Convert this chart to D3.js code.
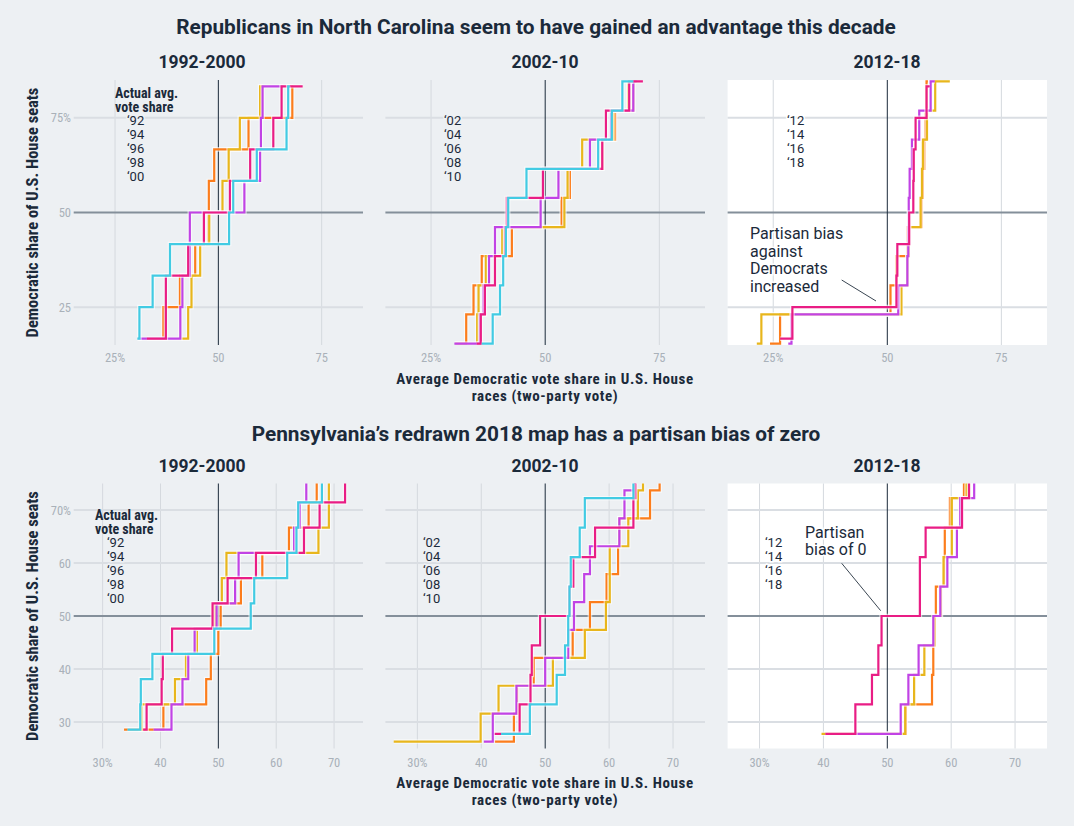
<!DOCTYPE html>
<html>
<head>
<meta charset="utf-8">
<script src="https://cdnjs.cloudflare.com/ajax/libs/d3/7.8.5/d3.min.js"></script>
<style>
  body { margin: 0; background: #edf0f3; }
  svg { display: block; }
  .narrow { font-family: "Liberation Sans Narrow", "Roboto Condensed", "Roboto", sans-serif; }
</style>
</head>
<body>
<script>
// one colour per election inside a decade
var colors = ["#fc7d1c", "#e8b61c", "#c143e5", "#e91d85", "#42cbe3"];

// ---- North Carolina ----
var ncYears1 = ["\u201892", "\u201894", "\u201896", "\u201898", "\u201800"];
var ncSeats1 = [12, 12, 12, 12, 12];
var ncLow1 = [2, 2, 2, 2, 2];
// start, vote share at each seat step, end
var ncVotes1 = [
  [36.5, 36.7, 40.7, 44.4, 47.6, 47.7, 49.0, 57.3, 67.9, 68.1],
  [41.1, 42.7, 43.5, 45.6, 47.8, 51.0, 52.5, 55.2, 60.1, 60.9],
  [30.6, 40.8, 41.3, 43.1, 43.1, 56.3, 60.1, 60.3, 60.7, 65.7],
  [32.7, 37.3, 37.3, 42.7, 46.5, 52.8, 57.7, 63.3, 65.3, 70.4],
  [30.4, 30.9, 34.1, 38.3, 52.6, 53.6, 59.3, 66.5, 66.9, 67.3]
];

var ncYears2 = ["\u201802", "\u201804", "\u201806", "\u201808", "\u201810"];
var ncSeats2 = [13, 13, 13, 13, 13];
var ncLow2 = [2, 2, 2, 2, 2];
var ncVotes2 = [
  [30.3, 32.7, 34.3, 36.1, 42.7, 53.6, 55.4, 62.5, 65.3, 69.3, 70.0],
  [34.9, 35.1, 35.4, 37.0, 40.6, 54.2, 54.9, 58.1, 64.9, 68.2, 69.3],
  [30.1, 35.7, 36.5, 37.7, 39.0, 49.0, 52.9, 59.8, 64.4, 69.3, 70.0],
  [35.0, 35.9, 36.8, 39.0, 41.2, 41.6, 49.5, 62.5, 63.3, 68.4, 71.4],
  [36.1, 38.5, 40.1, 40.8, 41.4, 41.9, 45.9, 61.6, 64.6, 66.9, 69.3]
];

var ncYears3 = ["\u201812", "\u201814", "\u201816", "\u201818"];
var ncSeats3 = [13, 13, 13, 12];
var ncLow3 = [2, 2, 2, 2];
var ncVotes3 = [
  [24.3, 26.5, 50.7, 52.0, 54.4, 57.5, 57.8, 58.1, 58.4, 58.6, 58.9],
  [21.4, 22.4, 53.1, 54.4, 54.7, 57.3, 57.6, 57.8, 58.7, 60.5, 63.7],
  [28.3, 29.0, 52.4, 54.4, 54.6, 54.7, 54.9, 55.4, 57.0, 59.5, 60.4],
  [26.5, 29.2, 52.0, 52.2, 54.8, 55.7, 55.8, 56.2, 58.6, 59.3]
];

// ---- Pennsylvania ----
var paYears1 = ["\u201892", "\u201894", "\u201896", "\u201898", "\u201800"];
var paSeats1 = [21, 21, 21, 21, 21];
var paLow1 = [6, 6, 6, 6, 6];
var paVotes1 = [
  [33.7, 40.5, 47.9, 48.7, 50.0, 50.4, 53.9, 57.6, 62.2, 65.6, 67.0, 67.0],
  [36.2, 36.7, 42.5, 44.4, 46.3, 49.4, 50.6, 51.4, 67.3, 69.1, 69.1, 69.1],
  [38.8, 41.9, 43.8, 44.8, 45.9, 49.7, 52.9, 53.5, 63.1, 64.1, 65.2, 65.2],
  [37.0, 37.6, 40.2, 40.4, 42.0, 49.0, 51.6, 56.5, 64.8, 67.5, 71.9, 71.9],
  [34.3, 36.5, 36.6, 38.6, 49.3, 55.6, 56.2, 61.9, 63.5, 63.8, 67.9, 67.9]
];

var paYears2 = ["\u201802", "\u201804", "\u201806", "\u201808", "\u201810"];
var paSeats2 = [19, 19, 19, 18, 18];
var paLow2 = [5, 5, 5, 5, 5];
var paVotes2 = [
  [42.1, 45.1, 45.6, 48.2, 54.3, 57.0, 59.6, 61.4, 61.6, 66.4, 67.9, 67.9],
  [26.3, 39.9, 42.7, 51.2, 56.2, 59.5, 60.1, 60.1, 63.0, 64.5, 65.3, 65.3],
  [40.4, 41.8, 45.5, 50.0, 53.6, 54.5, 56.1, 57.0, 61.6, 62.4, 64.0, 64.0],
  [42.1, 46.0, 47.7, 47.9, 49.2, 53.8, 54.4, 57.8, 63.8, 64.1, 64.1],
  [43.1, 47.6, 51.8, 53.1, 53.6, 53.8, 54.0, 55.4, 56.2, 63.8, 63.8]
];

var paYears3 = ["\u201812", "\u201814", "\u201816", "\u201818"];
var paSeats3 = [18, 18, 18, 18];
var paLow3 = [5, 5, 5, 5];
var paVotes3 = [
  [45.0, 52.9, 57.0, 57.2, 57.4, 57.6, 58.9, 59.0, 59.8, 62.0, 62.0],
  [39.7, 52.8, 54.2, 55.8, 57.4, 58.4, 58.8, 60.1, 60.1, 62.4, 62.4],
  [45.0, 52.1, 53.3, 54.9, 57.2, 58.3, 59.4, 60.9, 61.4, 63.6, 63.6],
  [40.3, 45.0, 47.6, 48.6, 49.1, 55.1, 55.1, 56.0, 61.7, 62.8, 62.8]
];

var panelLabels = ["1992-2000", "2002-10", "2012-18"];
var ncTicks = [25, 50, 75];
var paTicks = [30, 40, 50, 60, 70];

var navy = "#1b2a3a";
var svg = d3.select("body").append("svg").attr("width", 1074).attr("height", 826);

var panelX = [[73.7, 363], [385.4, 705], [727.6, 1047]];
var titleCx = [202, 545, 887];

var rows = [
  {
    title: "Republicans in North Carolina seem to have gained an advantage this decade",
    titleY: 34, labelY: 68, xDomain: [15, 85], yDomain: [15, 85], yRange: [345, 80],
    xTicks: ncTicks, yTicks: ncTicks, tickY: 362, axisY: 384, legendTop: 98,
    panels: [
      { years: ncYears1, seats: ncSeats1, low: ncLow1, votes: ncVotes1, lx: 115 },
      { years: ncYears2, seats: ncSeats2, low: ncLow2, votes: ncVotes2, lx: 444 },
      { years: ncYears3, seats: ncSeats3, low: ncLow3, votes: ncVotes3, lx: 787, white: true }
    ]
  },
  {
    title: "Pennsylvania\u2019s redrawn 2018 map has a partisan bias of zero",
    titleY: 441, labelY: 472, xDomain: [25, 75], yDomain: [25, 75], yRange: [748.5, 483.5],
    xTicks: paTicks, yTicks: paTicks, tickY: 767, axisY: 788, legendTop: 520,
    panels: [
      { years: paYears1, seats: paSeats1, low: paLow1, votes: paVotes1, lx: 95 },
      { years: paYears2, seats: paSeats2, low: paLow2, votes: paVotes2, lx: 423 },
      { years: paYears3, seats: paSeats3, low: paLow3, votes: paVotes3, lx: 765, white: true }
    ]
  }
];

// turn a list of step positions into points for a step-after line
function stepPoints(votes, seats, low) {
  var pts = [];
  for (var i = 0; i < votes.length - 1; i++) {
    pts.push([votes[i], (low + i) / seats * 100]);
  }
  pts.push([votes[votes.length - 1], (low + votes.length - 2) / seats * 100]);
  return pts;
}

rows.forEach(function(row, r) {
  svg.append("text")
    .attr("x", 536).attr("y", row.titleY)
    .attr("text-anchor", "middle")
    .attr("font-family", "Roboto, sans-serif")
    .attr("font-weight", 700).attr("font-size", 20.8)
    .attr("fill", navy)
    .text(row.title);

  var y = d3.scaleLinear().domain(row.yDomain).range(row.yRange);

  row.panels.forEach(function(p, j) {
    var x = d3.scaleLinear().domain(row.xDomain).range(panelX[j]);
    var g = svg.append("g");
    var bg = p.white ? "#ffffff" : "#edf0f3";

    svg.append("text")
      .attr("x", titleCx[j]).attr("y", row.labelY)
      .attr("text-anchor", "middle")
      .attr("font-family", "Roboto, sans-serif")
      .attr("font-weight", 700).attr("font-size", 17.5)
      .attr("fill", navy)
      .text(panelLabels[j]);

    if (p.white) {
      g.append("rect")
        .attr("x", panelX[j][0]).attr("y", row.yRange[1])
        .attr("width", panelX[j][1] - panelX[j][0])
        .attr("height", row.yRange[0] - row.yRange[1])
        .attr("fill", "#ffffff");
    }

    // grid
    g.selectAll(".vg").data(row.xTicks.filter(function(t) { return t !== 50; }))
      .enter().append("line")
      .attr("x1", function(d) { return x(d); }).attr("x2", function(d) { return x(d); })
      .attr("y1", row.yRange[1]).attr("y2", row.yRange[0])
      .attr("stroke", "#d5d9de").attr("stroke-width", 1);
    g.selectAll(".hg").data(row.yTicks.filter(function(t) { return t !== 50; }))
      .enter().append("line")
      .attr("x1", panelX[j][0]).attr("x2", panelX[j][1])
      .attr("y1", function(d) { return y(d); }).attr("y2", function(d) { return y(d); })
      .attr("stroke", "#dadee3").attr("stroke-width", 2);
    g.append("line")
      .attr("x1", panelX[j][0]).attr("x2", panelX[j][1])
      .attr("y1", y(50)).attr("y2", y(50))
      .attr("stroke", "#848f9a").attr("stroke-width", 2);
    g.append("line")
      .attr("x1", x(50)).attr("x2", x(50))
      .attr("y1", row.yRange[1]).attr("y2", row.yRange[0])
      .attr("stroke", navy).attr("stroke-width", 1);

    // x tick labels
    g.selectAll(".xt").data(row.xTicks).enter().append("text")
      .attr("class", "narrow")
      .attr("x", function(d) { return x(d); }).attr("y", row.tickY)
      .attr("text-anchor", "middle").attr("font-size", 12.5)
      .attr("fill", "#a9b1b9")
      .text(function(d, i) { return i === 0 ? d + "%" : d; });

    if (j === 0) {
      var yt = row.yTicks.slice().reverse();
      g.selectAll(".yt").data(yt).enter().append("text")
        .attr("class", "narrow")
        .attr("x", 71).attr("y", function(d) { return y(d) + 4.5; })
        .attr("text-anchor", "end").attr("font-size", 12.5)
        .attr("fill", "#a9b1b9")
        .text(function(d, i) { return i === 0 ? d + "%" : d; });
      var cy = (row.yRange[0] + row.yRange[1]) / 2;
      g.append("text")
        .attr("class", "narrow")
        .attr("transform", "translate(38," + cy + ") rotate(-90)")
        .attr("text-anchor", "middle").attr("font-size", 16.5).attr("font-weight", 700)
        .attr("fill", navy)
        .text("Democratic share of U.S. House seats");
    }

    // lines
    var clipId = "clip" + r + j;
    g.append("clipPath").attr("id", clipId).append("rect")
      .attr("x", panelX[j][0]).attr("y", row.yRange[1])
      .attr("width", panelX[j][1] - panelX[j][0])
      .attr("height", row.yRange[0] - row.yRange[1]);

    var line = d3.line()
      .x(function(d) { return x(d[0]); })
      .y(function(d) { return y(d[1]); })
      .curve(d3.curveStepAfter);

    var lg = g.append("g").attr("clip-path", "url(#" + clipId + ")");
    p.votes.forEach(function(v, k) {
      var pts = stepPoints(v, p.seats[k], p.low[k]);
      lg.append("path").attr("d", line(pts))
        .attr("fill", "none").attr("stroke", "#ffffff").attr("stroke-opacity", 0.6)
        .attr("stroke-width", 4.6);
      lg.append("path").attr("d", line(pts))
        .attr("fill", "none").attr("stroke", colors[k])
        .attr("stroke-width", 2.2);
    });

    // legend
    var ly = row.legendTop;
    var yearX = p.lx;
    if (j === 0) {
      ["Actual avg.", "vote share"].forEach(function(s, i) {
        g.append("text").attr("class", "narrow")
          .attr("x", p.lx).attr("y", ly + i * 14)
          .attr("font-size", 14).attr("font-weight", 700)
          .attr("fill", navy).text(s);
      });
      yearX = p.lx + 12;
    }
    g.selectAll(".yr").data(p.years).enter().append("text")
      .attr("x", yearX).attr("y", function(d, i) { return ly + 27 + i * 14; })
      .attr("font-family", "Roboto, sans-serif").attr("font-size", 13)
      .attr("fill", navy)
      .attr("stroke", bg).attr("stroke-width", 3).attr("paint-order", "stroke")
      .text(function(d) { return d; });
  });

  ["Average Democratic vote share in U.S. House", "races (two-party vote)"].forEach(function(s, i) {
    svg.append("text").attr("class", "narrow")
      .attr("x", 545).attr("y", row.axisY + i * 17)
      .attr("text-anchor", "middle").attr("font-size", 15).attr("font-weight", 700)
      .attr("letter-spacing", 0.6)
      .attr("fill", navy).text(s);
  });
});

// annotations
function note(lines, tx, ty, from, to) {
  lines.forEach(function(s, i) {
    svg.append("text")
      .attr("x", tx).attr("y", ty + i * 17.7)
      .attr("font-family", "Roboto, sans-serif").attr("font-size", 16)
      .attr("fill", navy)
      .attr("stroke", "#ffffff").attr("stroke-width", 3).attr("paint-order", "stroke")
      .text(s);
  });
  svg.append("line")
    .attr("x1", from[0]).attr("y1", from[1]).attr("x2", to[0]).attr("y2", to[1])
    .attr("stroke", "#3a4652").attr("stroke-width", 1);
}
note(["Partisan bias", "against", "Democrats", "increased"], 750, 239, [841.7, 280], [876, 301]);
note(["Partisan", "bias of 0"], 805, 537.5, [841.7, 563.3], [880.7, 610.7]);
</script>
</body>
</html>
